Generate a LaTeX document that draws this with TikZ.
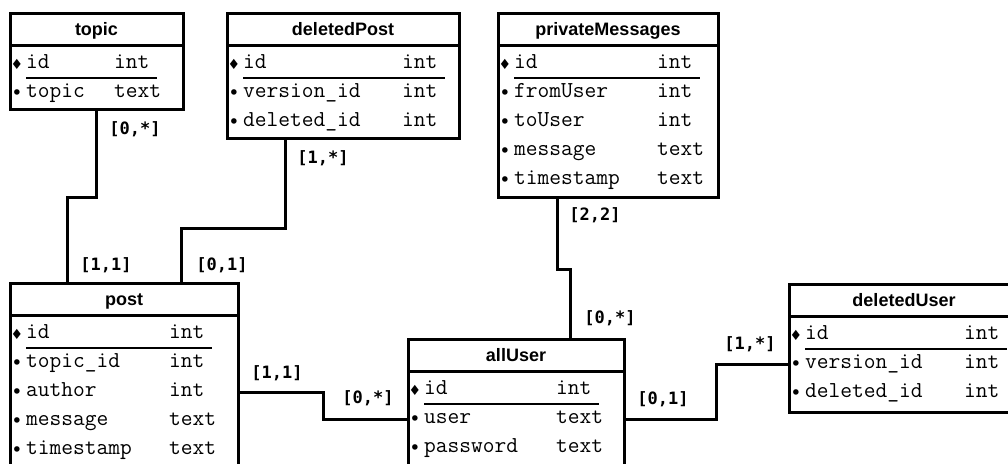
\documentclass[tikz,border=0pt]{standalone}
\usepackage{fontspec}
\setmainfont{Liberation Sans}
\newfontfamily\cardfont{DejaVu Sans Mono}
\newfontfamily\symfont{DejaVu Sans}

% #1 name, #2 x, #3 y, #4 width, #5 height, #6 title, #7 type column, #8 rows
\newcommand\dbtable[8]{%
  \node[tblbox, minimum width=#4, minimum height=#5] (#1) at (#2,#3) {};
  \draw[tblline] (#2,#3+32) -- (#2+#4,#3+32);
  \node[tbltitle] (#1-title) at (#2+#4/2,#3+16) {#6};
  \foreach \fname/\ftype [count=\i from 0] in {#8}{
    \ifnum\i=0
      \node[keysym] (#1-\i-s) at (#2+7,#3+51+29*\i) {\fontsize{14}{14}\selectfont ♦};
    \else
      \node[keysym, yshift=-1.5pt] (#1-\i-s) at (#2+7,#3+51+29*\i) {\fontsize{19}{19}\selectfont •};
    \fi
    \node[field] (#1-\i) at (#2+16,#3+51+29*\i) {\fname};
    \node[field] (#1-\i-t) at (#2+#7-1,#3+51+29*\i) {\ftype};
  }
  \draw[idline] (#2+16,#3+65) -- (#2+#7+42,#3+65);
}

\begin{document}
\begin{tikzpicture}[x=1pt,y=-1pt,
  tblbox/.style={draw, line width=3pt, anchor=north west, outer sep=0pt, inner sep=0pt},
  tblline/.style={line width=3pt},
  idline/.style={line width=1.2pt},
  tbltitle/.style={font=\bfseries\fontsize{18}{18}\selectfont, text height=12.6pt, text depth=0pt, inner sep=0pt},
  field/.style={font=\ttfamily\fontsize{22.8}{22.8}\selectfont, anchor=west, text height=9.6pt, text depth=0pt, inner sep=0pt},
  keysym/.style={font=\symfont, inner sep=0pt},
  card/.style={font=\cardfont\bfseries\fontsize{17}{17}\selectfont, text height=10.6pt, text depth=0pt, inner sep=0pt},
  link/.style={line width=3pt}]
\useasboundingbox (0,0) rectangle (1008,463);
\clip (0,0) rectangle (1008,463);

\dbtable{topic}{10}{13}{173}{96}{topic}{105}{id/int, topic/text}
\dbtable{deletedPost}{227}{13}{232}{125}{deletedPost}{176}{id/int, version\_id/int, deleted\_id/int}
\dbtable{privateMessages}{498}{13}{220}{184}{privateMessages}{160}{id/int, fromUser/int, toUser/int, message/text, timestamp/text}
\dbtable{post}{10}{283}{228}{184}{post}{160}{id/int, topic\_id/int, author/int, message/text, timestamp/text}
\dbtable{allUser}{408}{339}{216}{150}{allUser}{149}{id/int, user/text, password/text}
\dbtable{deletedUser}{789}{284}{230}{128}{deletedUser}{176}{id/int, version\_id/int, deleted\_id/int}

% connectors
\draw[link] (topic.south) -- ++(0,88) -| ([xshift=57pt]post.north west);
\draw[link] ([xshift=58pt]deletedPost.south west) -- ++(0,90) -| ([xshift=171pt]post.north west);
\draw[link] ([xshift=59pt]privateMessages.south west) -- ++(0,72) -| ([xshift=162pt]allUser.north west);
\draw[link] (post.east |- post-2) -- ++(85,0) |- (allUser.west |- allUser-1);
\draw[link] (allUser.east |- allUser-1) -- ++(92,0) |- (deletedUser.west |- deletedUser-1);

% cardinalities
\node[card] (topicCard) at (135,129) {[0,*]};
\node[card] (postTopicCard) at (106,265) {[1,1]};
\node[card] (deletedPostCard) at (323,158) {[1,*]};
\node[card] (postDeletedCard) at (222,265) {[0,1]};
\node[card] (messagesCard) at (595,215) {[2,2]};
\node[card] (userMessagesCard) at (610,318) {[0,*]};
\node[card] (postUserCard) at (277,373) {[1,1]};
\node[card] (userPostCard) at (368,398) {[0,*]};
\node[card] (userDeletedCard) at (663,399) {[0,1]};
\node[card] (deletedUserCard) at (750,344) {[1,*]};
\end{tikzpicture}
\end{document}
